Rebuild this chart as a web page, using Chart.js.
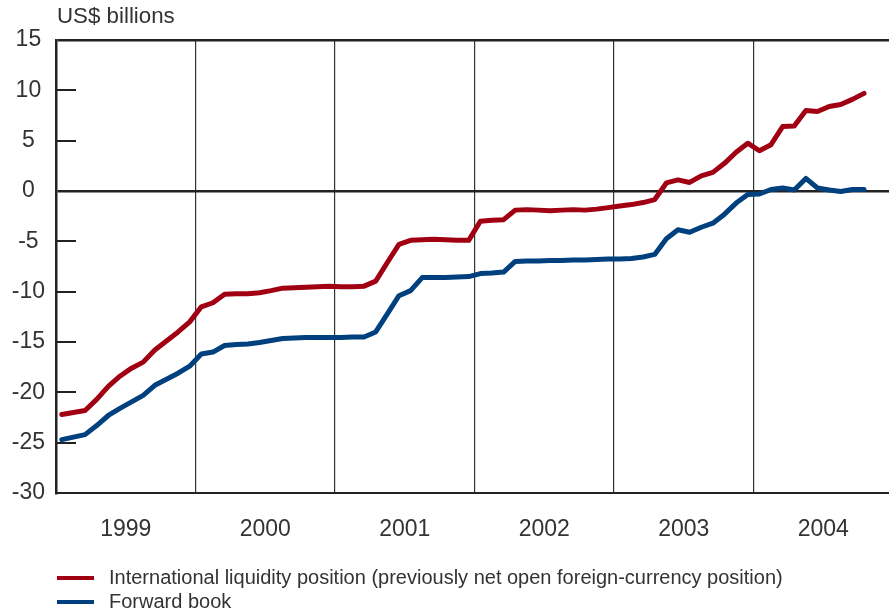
<!DOCTYPE html>
<html>
<head>
<meta charset="utf-8">
<script src="https://cdn.jsdelivr.net/npm/chart.js@4/dist/chart.umd.min.js"></script>
<style>
  html, body { margin: 0; padding: 0; background: #fff; }
  #wrap { position: relative; width: 889px; height: 615px; overflow: hidden; }
  #c { position: absolute; left: 0; top: 0; }
  .txt { position: absolute; font-family: "Liberation Sans", Arial, sans-serif; color: #333; white-space: nowrap; }
  #unit { left: 57px; top: 3px; font-size: 22.3px; }
  #legend { left: 57px; top: 565px; font-size: 20px; line-height: 24px; }
  .sw { display: inline-block; width: 37px; height: 4px; vertical-align: middle; margin-right: 15px; position: relative; top: -1px; }
</style>
</head>
<body>
<div id="wrap">
  <canvas id="c" width="889" height="615"></canvas>
  <div class="txt" id="unit">US$ billions</div>
  <div class="txt" id="legend">
    <div><span class="sw" style="background:#a00012"></span>International liquidity position (previously net open foreign-currency position)</div>
    <div><span class="sw" style="background:#00407e"></span>Forward book</div>
  </div>
</div>
<script>
// Years shown on the x axis (each year = 12 monthly observations)
const years = ['1999', '2000', '2001', '2002', '2003', '2004'];
const monthsPerYear = 12;

// Series names
const seriesNames = [
  'International liquidity position (previously net open foreign-currency position)',
  'Forward book'
];

// International liquidity position, monthly, US$ billions (Jan 1999 - Oct 2004)
const liquidity1999 = [-22.2, -22.0, -21.8, -20.7, -19.4, -18.4, -17.6, -17.0, -15.8, -14.9, -14.0, -13.0];
const liquidity2000 = [-11.5, -11.1, -10.25, -10.2, -10.2, -10.1, -9.9, -9.65, -9.6, -9.55, -9.5, -9.45];
const liquidity2001 = [-9.5, -9.5, -9.45, -8.95, -7.1, -5.3, -4.9, -4.85, -4.8, -4.85, -4.9, -4.9];
const liquidity2002 = [-3.0, -2.9, -2.85, -1.9, -1.85, -1.9, -1.95, -1.9, -1.85, -1.9, -1.8, -1.65];
const liquidity2003 = [-1.5, -1.35, -1.15, -0.85, 0.8, 1.1, 0.85, 1.5, 1.85, 2.75, 3.85, 4.75];
const liquidity2004 = [4.0, 4.6, 6.4, 6.45, 8.0, 7.9, 8.4, 8.6, 9.1, 9.7];

// Forward book, monthly, US$ billions (Jan 1999 - Oct 2004)
const forward1999 = [-24.7, -24.45, -24.2, -23.3, -22.3, -21.6, -20.95, -20.3, -19.3, -18.7, -18.1, -17.4];
const forward2000 = [-16.2, -16.0, -15.35, -15.25, -15.2, -15.05, -14.85, -14.65, -14.6, -14.55, -14.55, -14.55];
const forward2001 = [-14.55, -14.5, -14.5, -14.0, -12.2, -10.4, -9.9, -8.6, -8.6, -8.6, -8.55, -8.5];
const forward2002 = [-8.2, -8.15, -8.05, -7.0, -6.95, -6.95, -6.9, -6.9, -6.85, -6.85, -6.8, -6.75];
const forward2003 = [-6.75, -6.7, -6.55, -6.3, -4.75, -3.85, -4.1, -3.6, -3.2, -2.3, -1.2, -0.35];
const forward2004 = [-0.3, 0.15, 0.3, 0.1, 1.25, 0.3, 0.1, -0.05, 0.15, 0.15];

// Y axis ticks
const yTicks = [15, 10, 5, 0, -5, -10, -15, -20, -25, -30];

const liquidity = [].concat(liquidity1999, liquidity2000, liquidity2001, liquidity2002, liquidity2003, liquidity2004);
const forward = [].concat(forward1999, forward2000, forward2001, forward2002, forward2003, forward2004);

// each monthly point sits in the middle of its month slot
const toPoints = arr => arr.map((v, i) => ({ x: i + 0.5, y: v }));

const FONT = { family: '"Liberation Sans", Arial, sans-serif', size: 23 };
const INK = '#222';
const xMax = 71.65;

const inwardTicks = {
  id: 'inwardTicks',
  beforeDatasetsDraw(chart) {
    const { ctx, chartArea } = chart;
    const y = chart.scales.y;
    ctx.save();
    ctx.strokeStyle = INK;
    ctx.lineWidth = 2;
    y.ticks.forEach(t => {
      if (t.value === 15 || t.value === 0 || t.value === -30) return;
      const py = Math.round(y.getPixelForValue(t.value));
      ctx.beginPath();
      ctx.moveTo(chartArea.left, py);
      ctx.lineTo(chartArea.left + 20, py);
      ctx.stroke();
    });
    ctx.restore();
  }
};

new Chart(document.getElementById('c'), {
  type: 'line',
  data: {
    datasets: [
      { label: seriesNames[0], data: toPoints(liquidity), borderColor: '#a00012', borderWidth: 5, pointRadius: 0, tension: 0, borderJoinStyle: 'round', borderCapStyle: 'round' },
      { label: seriesNames[1], data: toPoints(forward), borderColor: '#00407e', borderWidth: 5, pointRadius: 0, tension: 0, borderJoinStyle: 'round', borderCapStyle: 'round' }
    ]
  },
  options: {
    responsive: false,
    animation: false,
    devicePixelRatio: 1,
    layout: { padding: { top: 40, right: 0, left: 0, bottom: 0 } },
    plugins: { legend: { display: false }, tooltip: { enabled: false } },
    scales: {
      x: {
        type: 'linear',
        min: 0,
        max: xMax,
        position: 'bottom',
        afterBuildTicks: s => { s.ticks = years.map((y, i) => ({ value: i * monthsPerYear + monthsPerYear / 2 })); },
        afterFit: s => { s.height = 122; },
        ticks: {
          autoSkip: false,
          maxRotation: 0,
          padding: 23,
          color: '#333',
          font: FONT,
          callback: (v) => years[Math.floor(v / monthsPerYear)]
        },
        grid: { display: false, drawTicks: false },
        border: { display: true, color: INK, width: 2 }
      },
      x2: {
        type: 'linear',
        min: 0,
        max: xMax,
        position: 'bottom',
        afterBuildTicks: s => { s.ticks = years.slice(1).map((y, i) => ({ value: (i + 1) * monthsPerYear })); },
        afterFit: s => { s.height = 0; },
        ticks: { display: false },
        grid: { display: true, drawTicks: false, color: '#333', lineWidth: 1.2 },
        border: { display: false }
      },
      y: {
        min: -30,
        max: 15,
        afterBuildTicks: s => { s.ticks = yTicks.map(v => ({ value: v })); },
        afterFit: s => { s.width = 56; },
        ticks: { color: '#333', font: FONT, padding: 11, crossAlign: 'center' },
        grid: {
          drawTicks: false,
          color: c => (c.tick && (c.tick.value === 0 || c.tick.value === 15)) ? INK : 'rgba(0,0,0,0)',
          lineWidth: c => (c.tick && (c.tick.value === 0 || c.tick.value === 15)) ? 2.5 : 0
        },
        border: { display: true, color: INK, width: 2.5 }
      }
    }
  },
  plugins: [inwardTicks]
});
</script>
</body>
</html>
